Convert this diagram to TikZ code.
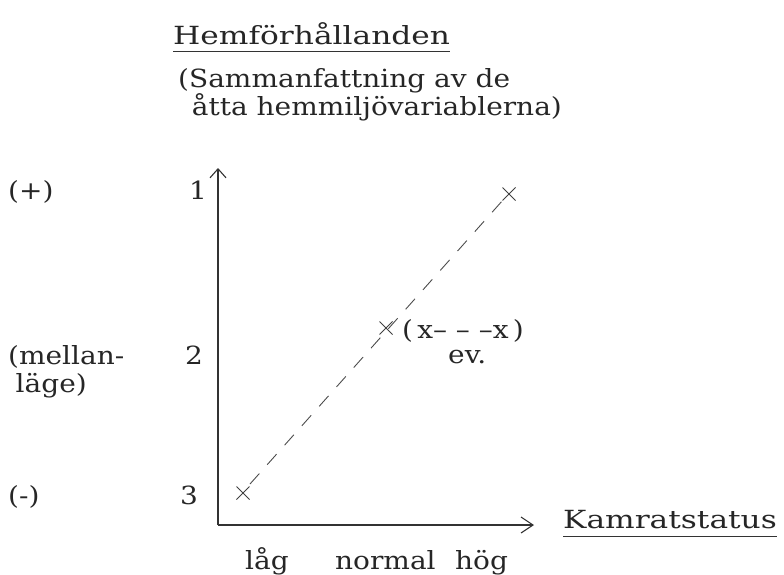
\documentclass[tikz,border=0pt]{standalone}
\usepackage{fontspec}
\setmainfont[FakeStretch=1.12]{DejaVu Serif}
\newfontfamily\headfont[FakeStretch=1.25]{DejaVu Serif}
\usetikzlibrary{arrows.meta,calc}
\begin{document}
\begin{tikzpicture}[x=1pt,y=-1pt,
  lbl/.style={font=\fontsize{25}{28}\selectfont, inner sep=0pt, text=black!85},
  head/.style={font=\headfont\fontsize{25}{28}\selectfont, inner sep=0pt, text=black!85},
  ax/.style={line width=1.1pt, black!80},
  uline/.style={line width=1pt, black!80},
  cross/.style={line width=0.9pt, black!75},
  trend/.style={line width=0.9pt, black!70, dash pattern=on 14pt off 12pt}]
\useasboundingbox (0,0) rectangle (784,575);
% titles
\node[head, anchor=base west] (title) at (173,45) {Hemförhållanden};
\draw[uline] ($(title.base west)+(0,7)$) -- ($(title.base east)+(0,7)$);
\node[lbl, anchor=base west, align=left] (sub) at (178,116) {(Sammanfattning av de\\\hspace*{0.55em}åtta hemmiljövariablerna)};
% axes
\coordinate (O) at (218,525);
\coordinate (ytop) at (218,168);
\coordinate (xend) at (534,525);
\draw[ax, -{Straight Barb[length=9pt,width=16pt]}] (O) -- (ytop);
\draw[ax, -{Straight Barb[length=12pt,width=16pt]}] (O) -- (xend);
% x label
\node[head, anchor=base west] (kam) at (563,528) {Kamratstatus};
\draw[uline] ($(kam.base west)+(0,8)$) -- ($(kam.base east)+(0,8)$);
% x tick labels
\node[lbl, anchor=base west] (lag) at (245,569) {låg};
\node[lbl, anchor=base west] (norm) at (335,569) {normal};
\node[lbl, anchor=base west] (hog) at (455,569) {hög};
% y labels
\node[lbl, anchor=base west] (plus) at (8,199) {(+)};
\node[lbl, anchor=base west] (one) at (189,199) {1};
\node[lbl, anchor=base west, align=left] (mell) at (8,392) {(mellan-\\\hspace*{0.3em}läge)};
\node[lbl, anchor=base west] (two) at (185,364) {2};
\node[lbl, anchor=base west] (minus) at (8,504) {(-)};
\node[lbl, anchor=base west] (three) at (180,504) {3};
% crosses
\coordinate (c1) at (243,493);
\coordinate (c2) at (386,328);
\coordinate (c3) at (509,194);
\foreach \n in {c1,c2,c3} {
  \draw[cross] ($(\n)+(-6.5,-6.5)$) -- ($(\n)+(6.5,6.5)$);
  \draw[cross] ($(\n)+(-6.5,6.5)$) -- ($(\n)+(6.5,-6.5)$);
}
% dashed trend
\draw[trend] (250,484) -- (503,200);
% ev. alternative
\node[lbl, anchor=base west] (alt) at (402,338) {(\,x– – –x\,)};
\node[lbl, anchor=base west] (ev) at (448,363) {ev.};
\end{tikzpicture}
\end{document}
